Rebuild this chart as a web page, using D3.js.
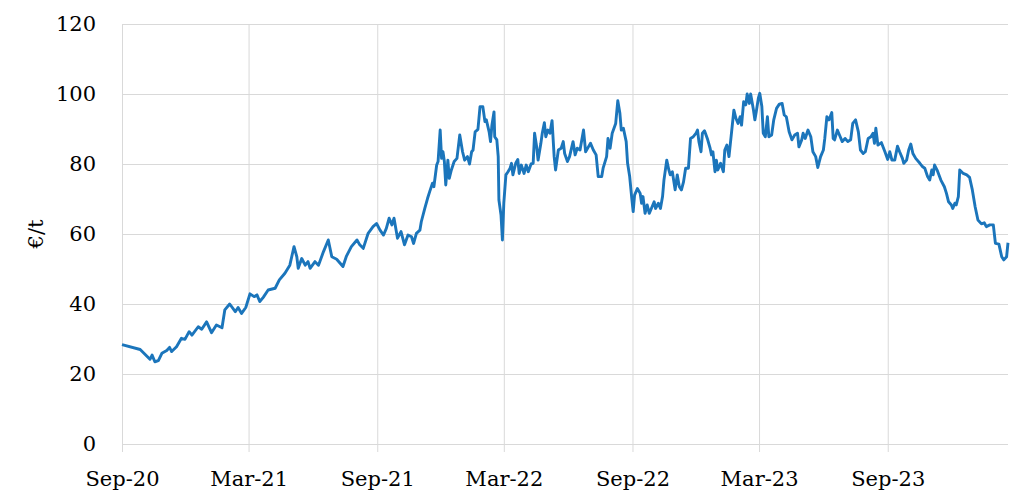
<!DOCTYPE html>
<html lang="en">

<head>
    <meta charset="utf-8">
    <!-- Load d3.js -->
    <script src="https://d3js.org/d3.v7.min.js"></script>
    <style>
        body {
            margin: 0;
            background: white;
        }

        .tick text {
            font-family: "DejaVu Serif", serif;
            font-size: 21px;
            fill: #000;
        }

        .grid line {
            stroke: #d9d9d9;
            stroke-width: 1px;
        }
    </style>
</head>

<body>
    <div id="my_dataviz"></div>

    <script>
        // Carbon price series (€/t)
        const priceDates = [
            "2020-09-01", "2020-09-27", "2020-10-11", "2020-10-14", "2020-10-18", "2020-10-23", "2020-10-28", "2020-11-04", "2020-11-08", "2020-11-11",
            "2020-11-18", "2020-11-25", "2020-11-30", "2020-12-06", "2020-12-10", "2020-12-19", "2020-12-24", "2020-12-31",
            "2021-01-07", "2021-01-14", "2021-01-22", "2021-01-26", "2021-02-02", "2021-02-10", "2021-02-14", "2021-02-19", "2021-02-25",
            "2021-03-03", "2021-03-09", "2021-03-13", "2021-03-17", "2021-03-22", "2021-03-29", "2021-04-08", "2021-04-14", "2021-04-22", "2021-04-29",
            "2021-05-05", "2021-05-09", "2021-05-11", "2021-05-16", "2021-05-21", "2021-05-25", "2021-05-28", "2021-06-04", "2021-06-09", "2021-06-16",
            "2021-06-23", "2021-06-28", "2021-07-05", "2021-07-14", "2021-07-19", "2021-07-26", "2021-08-03", "2021-08-07", "2021-08-12", "2021-08-19",
            "2021-08-26", "2021-08-31", "2021-09-05", "2021-09-10", "2021-09-14", "2021-09-18", "2021-09-22", "2021-09-25", "2021-09-30", "2021-10-05",
            "2021-10-10", "2021-10-15", "2021-10-20", "2021-10-23", "2021-10-27", "2021-11-01", "2021-11-03", "2021-11-08", "2021-11-12", "2021-11-15",
            "2021-11-19", "2021-11-21", "2021-11-25", "2021-11-27", "2021-11-30", "2021-12-02", "2021-12-04", "2021-12-06", "2021-12-08", "2021-12-11",
            "2021-12-13", "2021-12-16", "2021-12-20", "2021-12-24", "2021-12-28",
            "2022-01-01", "2022-01-04", "2022-01-08", "2022-01-11", "2022-01-14", "2022-01-16", "2022-01-19", "2022-01-23", "2022-01-26", "2022-01-30",
            "2022-02-02", "2022-02-04", "2022-02-08", "2022-02-10", "2022-02-12", "2022-02-15", "2022-02-16", "2022-02-19", "2022-02-21", "2022-02-22",
            "2022-02-25", "2022-02-27", "2022-03-01", "2022-03-04", "2022-03-07", "2022-03-10", "2022-03-12", "2022-03-14", "2022-03-18", "2022-03-21",
            "2022-03-23", "2022-03-26", "2022-03-30", "2022-04-02", "2022-04-05", "2022-04-09", "2022-04-12", "2022-04-14", "2022-04-17", "2022-04-19",
            "2022-04-23", "2022-04-25", "2022-04-28", "2022-04-30", "2022-05-03", "2022-05-06", "2022-05-09", "2022-05-12", "2022-05-14", "2022-05-18",
            "2022-05-22", "2022-05-25", "2022-05-27", "2022-05-31", "2022-06-03", "2022-06-08", "2022-06-11", "2022-06-14", "2022-06-18", "2022-06-23",
            "2022-06-26", "2022-06-30", "2022-07-03", "2022-07-07", "2022-07-11", "2022-07-14", "2022-07-19", "2022-07-21", "2022-07-26", "2022-07-28",
            "2022-07-31", "2022-08-03", "2022-08-08", "2022-08-11", "2022-08-14", "2022-08-16", "2022-08-19", "2022-08-23", "2022-08-25", "2022-08-28",
            "2022-08-31", "2022-09-02", "2022-09-04", "2022-09-08", "2022-09-12", "2022-09-14", "2022-09-16", "2022-09-19", "2022-09-22", "2022-09-25",
            "2022-09-28", "2022-10-02", "2022-10-04", "2022-10-08", "2022-10-11", "2022-10-14", "2022-10-16", "2022-10-20", "2022-10-23", "2022-10-25",
            "2022-10-28", "2022-11-01", "2022-11-04", "2022-11-07", "2022-11-10", "2022-11-13", "2022-11-16", "2022-11-20", "2022-11-23", "2022-11-27",
            "2022-12-01", "2022-12-03", "2022-12-05", "2022-12-08", "2022-12-10", "2022-12-13", "2022-12-17", "2022-12-21", "2022-12-23", "2022-12-25",
            "2022-12-28", "2022-12-30",
            "2023-01-01", "2023-01-05", "2023-01-09", "2023-01-11", "2023-01-14", "2023-01-17", "2023-01-21", "2023-01-24", "2023-01-27", "2023-01-30",
            "2023-02-02", "2023-02-04", "2023-02-07", "2023-02-10", "2023-02-12", "2023-02-15", "2023-02-17", "2023-02-21", "2023-02-23", "2023-02-25",
            "2023-02-28", "2023-03-02", "2023-03-05", "2023-03-07", "2023-03-10", "2023-03-13", "2023-03-15", "2023-03-19", "2023-03-22", "2023-03-26",
            "2023-03-30", "2023-04-03", "2023-04-06", "2023-04-09", "2023-04-13", "2023-04-17", "2023-04-21", "2023-04-25", "2023-04-27", "2023-05-01",
            "2023-05-03", "2023-05-06", "2023-05-10", "2023-05-14", "2023-05-17", "2023-05-21", "2023-05-24", "2023-05-28", "2023-06-01", "2023-06-03",
            "2023-06-06", "2023-06-09", "2023-06-13", "2023-06-15", "2023-06-17", "2023-06-21", "2023-06-24", "2023-06-28", "2023-07-02", "2023-07-06",
            "2023-07-10", "2023-07-13", "2023-07-17", "2023-07-21", "2023-07-24", "2023-07-28", "2023-07-31", "2023-08-04", "2023-08-08", "2023-08-11",
            "2023-08-13", "2023-08-15", "2023-08-18", "2023-08-23", "2023-08-28", "2023-09-01", "2023-09-04", "2023-09-07", "2023-09-11", "2023-09-15",
            "2023-09-18", "2023-09-22", "2023-09-24", "2023-09-28", "2023-10-01", "2023-10-04", "2023-10-07", "2023-10-11", "2023-10-17", "2023-10-21",
            "2023-10-24", "2023-10-28", "2023-10-31", "2023-11-03", "2023-11-05", "2023-11-07", "2023-11-11", "2023-11-16", "2023-11-21", "2023-11-24",
            "2023-11-27", "2023-12-01", "2023-12-03", "2023-12-06", "2023-12-08", "2023-12-11", "2023-12-13", "2023-12-18", "2023-12-23", "2023-12-27",
            "2023-12-31",
            "2024-01-04", "2024-01-08", "2024-01-13", "2024-01-17", "2024-01-20", "2024-01-25", "2024-01-30", "2024-02-02", "2024-02-07", "2024-02-11",
            "2024-02-14", "2024-02-18", "2024-02-20"
        ];

        const prices = [
            // 2020
            28.4, 27.0, 24.2, 25.4, 23.5, 23.8, 25.9, 26.7, 27.6, 26.4,
            27.8, 30.2, 29.9, 32.1, 31.1, 33.5, 32.8, 34.9,
            // 2021
            31.8, 34.0, 33.2, 38.3, 40.0, 37.8, 39.0, 37.3, 39.0,
            42.9, 42.1, 42.6, 40.7, 41.9, 44.0, 44.5, 46.9, 48.8, 51.1,
            56.4, 53.5, 50.2, 53.0, 51.1, 52.1, 50.2, 52.1, 51.1, 54.9,
            58.3, 53.5, 52.8, 50.7, 53.7, 56.4, 58.3, 56.9, 55.9, 60.2,
            62.1, 63.0, 61.1, 59.7, 61.6, 64.5, 62.6, 64.5, 58.8, 60.7,
            56.9, 59.7, 59.2, 57.3, 60.2, 61.1, 63.5, 67.3, 70.2, 72.1,
            74.5, 73.5, 79.7, 80.7, 89.7, 81.6, 83.5, 80.7, 74.0, 81.1,
            75.9, 78.3, 80.7, 81.6, 88.3,
            // 2022
            83.5, 81.1, 82.1, 80.0, 83.5, 84.0, 89.2, 89.9, 96.4, 96.4,
            92.1, 92.6, 89.2, 86.4, 91.1, 94.9, 87.8, 86.9, 82.1, 69.7,
            65.4, 58.3, 68.8, 76.9, 77.8, 78.8, 80.2, 76.9, 80.2, 81.3,
            77.3, 79.7, 77.3, 79.7, 77.8, 80.0, 80.2, 88.8, 84.9, 81.1,
            85.9, 88.8, 91.8, 87.8, 89.7, 88.8, 92.4, 82.1, 78.3, 84.0,
            84.5, 86.4, 83.0, 80.7, 82.1, 86.4, 82.6, 84.5, 84.0, 89.7,
            83.5, 84.9, 85.9, 84.0, 82.6, 76.4, 76.4, 78.8, 82.1, 87.3,
            84.5, 88.8, 91.6, 98.1, 94.5, 89.7, 90.2, 86.4, 80.2, 76.4,
            70.2, 66.4, 71.1, 73.0, 71.6, 68.8, 70.7, 65.9, 68.3, 65.9,
            67.3, 69.2, 67.3, 68.8, 67.3, 70.7, 75.4, 81.1, 78.3, 76.9,
            77.8, 72.6, 76.9, 73.5, 72.6, 74.9, 78.8, 78.8, 87.3, 87.8,
            88.8, 89.7, 86.4, 83.5, 88.8, 89.5, 87.3, 84.5, 82.6, 83.5,
            77.8, 81.1,
            // 2023
            78.3, 80.2, 77.8, 84.0, 85.4, 82.1, 89.7, 95.4, 93.0, 91.6,
            93.5, 91.1, 97.8, 96.9, 100.0, 97.3, 100.0, 95.4, 92.6, 94.9,
            98.8, 100.2, 96.4, 88.8, 87.8, 93.5, 87.8, 88.3, 92.6, 95.9,
            97.1, 97.3, 94.0, 93.5, 89.2, 86.9, 88.3, 88.8, 84.9, 86.9,
            88.8, 87.3, 89.7, 87.8, 83.5, 82.1, 79.0, 82.1, 84.0, 87.3,
            93.5, 92.6, 94.7, 87.3, 86.9, 89.7, 88.3, 86.4, 87.3, 86.4,
            86.9, 91.6, 92.6, 89.2, 84.0, 83.0, 83.5, 87.3, 87.8, 88.8,
            85.9, 90.2, 85.4, 86.1, 83.5, 81.3, 83.5, 81.1, 81.1, 85.1,
            83.5, 81.6, 80.2, 81.1, 84.0, 85.7, 83.0, 81.6, 80.2, 79.2,
            78.8, 76.4, 75.4, 78.3, 76.9, 79.7, 78.1, 75.4, 73.5, 71.6,
            69.2, 68.3, 67.3, 68.8, 68.3, 70.7, 78.3, 77.3, 76.9, 76.2,
            72.6,
            // 2024
            67.8, 64.0, 62.9, 63.2, 62.1, 62.6, 62.6, 57.3, 57.1, 53.5,
            52.6, 53.5, 57.5
        ];

        // axis ticks
        const xTickDates = ["2020-09-01", "2021-03-01", "2021-09-01", "2022-03-01", "2022-09-01", "2023-03-01", "2023-09-01"];
        const yTickValues = [0, 20, 40, 60, 80, 100, 120];
        const yLabel = "€/t";

        // set the dimensions and margins of the graph
        const margin = { top: 24, right: 16, bottom: 60, left: 122 },
            width = 1024 - margin.left - margin.right,
            height = 504 - margin.top - margin.bottom;

        const parseDate = d3.timeParse("%Y-%m-%d");
        const data = priceDates.map((d, i) => ({ date: parseDate(d), value: prices[i] }));

        const svg = d3.select("#my_dataviz")
            .append("svg")
            .attr("width", width + margin.left + margin.right)
            .attr("height", height + margin.top + margin.bottom)
            .append("g")
            .attr("transform", `translate(${margin.left},${margin.top})`);

        // X axis: dates, first to last observation
        const x = d3.scaleTime()
            .domain(d3.extent(data, d => d.date))
            .range([0, width]);

        // Y axis
        const y = d3.scaleLinear()
            .domain([0, 120])
            .range([height, 0]);

        // horizontal gridlines
        svg.append("g")
            .attr("class", "grid")
            .call(d3.axisLeft(y).tickValues(yTickValues).tickSize(-width).tickFormat(""))
            .call(g => g.select(".domain").remove());

        // vertical gridlines (run a little below the plot like tick marks)
        svg.append("g")
            .attr("class", "grid")
            .attr("transform", `translate(0, ${height + 8})`)
            .call(d3.axisBottom(x).tickValues(xTickDates.map(parseDate)).tickSize(-(height + 8)).tickFormat(""))
            .call(g => g.select(".domain").remove());

        // tick labels
        svg.append("g")
            .call(d3.axisLeft(y).tickValues(yTickValues).tickSize(0).tickPadding(26))
            .call(g => g.select(".domain").remove());

        svg.append("g")
            .attr("transform", `translate(0, ${height})`)
            .call(d3.axisBottom(x).tickValues(xTickDates.map(parseDate)).tickSize(0).tickPadding(27)
                .tickFormat(d3.timeFormat("%b-%y")))
            .call(g => g.select(".domain").remove());

        // y axis title
        svg.append("text")
            .attr("text-anchor", "middle")
            .attr("dominant-baseline", "central")
            .attr("transform", `translate(${36 - margin.left}, ${y(60)}) rotate(-90)`)
            .style("font-family", "'DejaVu Serif', serif")
            .style("font-size", "21px")
            .text(yLabel);

        // the price line
        svg.append("path")
            .datum(data)
            .attr("fill", "none")
            .attr("stroke", "#1b75bb")
            .attr("stroke-width", 2.9)
            .attr("stroke-linejoin", "round")
            .attr("d", d3.line()
                .x(d => x(d.date))
                .y(d => y(d.value)));
    </script>

</body>

</html>
